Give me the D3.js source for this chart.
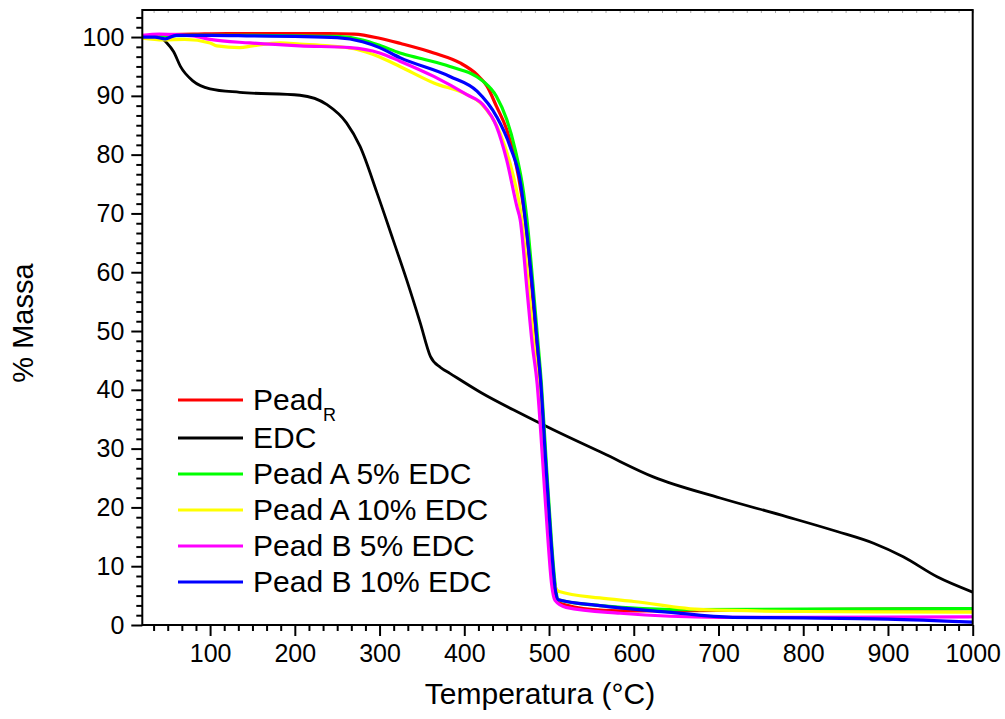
<!DOCTYPE html>
<html><head><meta charset="utf-8">
<script src="https://cdn.jsdelivr.net/npm/d3@7"></script>
<style>body{margin:0;background:#fff}svg{display:block}text{font-family:Arial,"Liberation Sans",sans-serif;fill:#000}</style>
</head><body><svg id="c" width="1005" height="719"></svg>
<script>
// ---- data ----
const xTicks = [100,200,300,400,500,600,700,800,900,1000];
const yTicks = [0,10,20,30,40,50,60,70,80,90,100];

const peadR_T = [20,40,80,120,160,200,240,270,300,325,364,395,415,427,438,450,460,468,472,480,486,490,496,502,506,509,520,564,600,700,800,900,1000];
const peadR_M = [100,100.4,100.5,100.6,100.6,100.6,100.6,100.5,99.8,98.9,97.3,95.6,93.6,91.6,88.2,84.3,79.1,72.9,68.9,57,47,40,27,14,6.5,4.0,3.4,2.5,2.4,2.5,2.6,2.7,2.8];

const edc_T = [20,40,49,57,65,80,100,135,206,238,261,277,297,316,332,348,360,372,383,420,466,505,564,623,702,781,840,883,918,958,1000];
const edc_M = [100,100,99,97.5,95,92.5,91.2,90.6,90.1,88.5,85.4,81.4,73.5,65.5,58.7,51.4,45.7,43.8,42.8,39.5,36.0,33.2,29.2,25.2,21.6,18.4,15.9,13.9,11.6,8.2,5.6];

const peadA5_T = [20,40,80,150,200,250,280,300,324,350,383,422,438,450,460,470,474,481,487,491,497,503,508,511,560,662,800,1000];
const peadA5_M = [100,100.2,100.3,100.3,100.2,100.1,99.5,98.6,97.3,96.3,95.0,92.5,89.9,86.0,80.9,73.5,68.9,58,48,41,27,14,6,4.3,3.3,2.6,2.7,2.8];

const peadA10_T = [20,45,70,100,108,135,150,183,206,240,270,300,324,364,403,419,442,458,468,476,482,488,494,500,505,509,512,560,600,682,800,1000];
const peadA10_M = [99.8,99.5,99.6,99.0,98.5,98.2,98.5,99.0,98.8,98.5,98.0,96.6,95.0,92.2,90.2,88.8,83.7,76.3,68.9,57,48,39,27,15,8,6.0,5.7,4.6,4.0,2.6,2.3,2.2];

const peadB5_T = [20,40,80,100,147,206,265,300,324,364,403,422,438,450,462,466,474,480,486,492,498,503,507,520,584,702,800,1000];
const peadB5_M = [100.3,100.5,100.2,99.6,99.0,98.5,98.2,97.3,95.9,93.3,90.2,88.5,84.8,79.1,71.2,68.9,57,48,41,29,16,7,4.2,3.0,2.0,1.3,1.3,1.4];

const peadB10_T = [20,35,47,60,100,150,200,250,280,300,324,383,415,438,454,467,472,480,486,490,496,502,507,511,560,640,717,800,900,1000];
const peadB10_M = [100,100,99.7,100.3,100.3,100.2,100.1,99.9,99.2,98.2,96.5,93.3,90.8,86.5,81.4,74.6,68.9,58,48,41.7,28,15,6.5,4.3,3.3,2.2,1.3,1.2,1.0,0.5];

const seriesNames = ["Pead_R","EDC","Pead A 5% EDC","Pead A 10% EDC","Pead B 5% EDC","Pead B 10% EDC"];
const seriesColors = ["#ff0000","#000000","#00ff00","#ffff00","#ff00ff","#0000ff"];
const seriesT = [peadR_T, edc_T, peadA5_T, peadA10_T, peadB5_T, peadB10_T];
const seriesM = [peadR_M, edc_M, peadA5_M, peadA10_M, peadB5_M, peadB10_M];

// ---- layout ----
const svg = d3.select("#c");
const L = 142.3, R = 972.7, T = 10, B = 625;
const x = d3.scaleLinear().domain([20,1000]).range([L,R]);
const y = d3.scaleLinear().domain([0,104.6]).range([B,T]);

svg.append("defs").append("clipPath").attr("id","clip")
  .append("rect").attr("x",L).attr("y",T).attr("width",R-L).attr("height",B-T);

// minor ticks
const xMinor = d3.range(0,1001,100/6).filter(v=>v>20.5 && v<999 && Math.abs(v/100-Math.round(v/100))>0.01);
const yMinor = d3.range(0,104.6,10/6).filter(v=>v>0.5 && Math.abs(v/10-Math.round(v/10))>0.01);

const gx = svg.append("g").attr("transform",`translate(0,${B})`);
gx.call(d3.axisBottom(x).tickValues(xMinor).tickSize(6).tickFormat(""));
const gx2 = svg.append("g").attr("transform",`translate(0,${B})`);
gx2.call(d3.axisBottom(x).tickValues(xTicks).tickSize(11).tickPadding(8).tickFormat(d3.format("d")));
const gy = svg.append("g").attr("transform",`translate(${L},0)`);
gy.call(d3.axisLeft(y).tickValues(yMinor).tickSize(6).tickFormat(""));
const gy2 = svg.append("g").attr("transform",`translate(${L},0)`);
gy2.call(d3.axisLeft(y).tickValues(yTicks).tickSize(11).tickPadding(7).tickFormat(d3.format("d")));
[gx,gx2,gy,gy2].forEach(g=>{
  g.select(".domain").remove();
  g.selectAll(".tick line").attr("stroke","#000").attr("stroke-width",2);
  g.selectAll(".tick text").style("font-size","25px").attr("fill","#000");
});
// faint top ticks
const gt = svg.append("g").attr("transform",`translate(0,${T})`);
gt.call(d3.axisTop(x).tickValues(xMinor.concat(xTicks)).tickSize(-3).tickFormat(""));
gt.select(".domain").remove();
gt.selectAll(".tick line").attr("stroke","#aaa").attr("stroke-width",1);

// lines
const line = d3.line().curve(d3.curveMonotoneX);
const plot = svg.append("g").attr("clip-path","url(#clip)");
seriesNames.forEach((n,i)=>{
  const pts = seriesT[i].map((t,j)=>[x(t), y(seriesM[i][j])]);
  plot.append("path").attr("d",line(pts)).attr("fill","none")
    .attr("stroke",seriesColors[i]).attr("stroke-width", i===1?2.8:3.2)
    .attr("stroke-linejoin","round");
});

// frame
svg.append("rect").attr("x",L).attr("y",T).attr("width",R-L).attr("height",B-T)
  .attr("fill","none").attr("stroke","#000").attr("stroke-width",2);

// axis titles
svg.append("text").attr("x",540).attr("y",704).attr("text-anchor","middle")
  .style("font-size","30px").text("Temperatura (°C)");
svg.append("text").attr("transform","translate(33,323) rotate(-90)").attr("text-anchor","middle")
  .style("font-size","29px").text("% Massa");

// legend
const legY = [400,438,474,510,546,582];
const leg = svg.append("g");
seriesNames.forEach((n,i)=>{
  leg.append("line").attr("x1",178).attr("x2",243).attr("y1",legY[i]).attr("y2",legY[i])
    .attr("stroke",seriesColors[i]).attr("stroke-width",3);
  const t = leg.append("text").attr("x",253).attr("y",legY[i]+10).style("font-size","30px");
  if(n==="Pead_R"){
    t.append("tspan").text("Pead");
    t.append("tspan").attr("dy",11).style("font-size","18px").text("R");
  } else t.text(n);
});
</script></body></html>
